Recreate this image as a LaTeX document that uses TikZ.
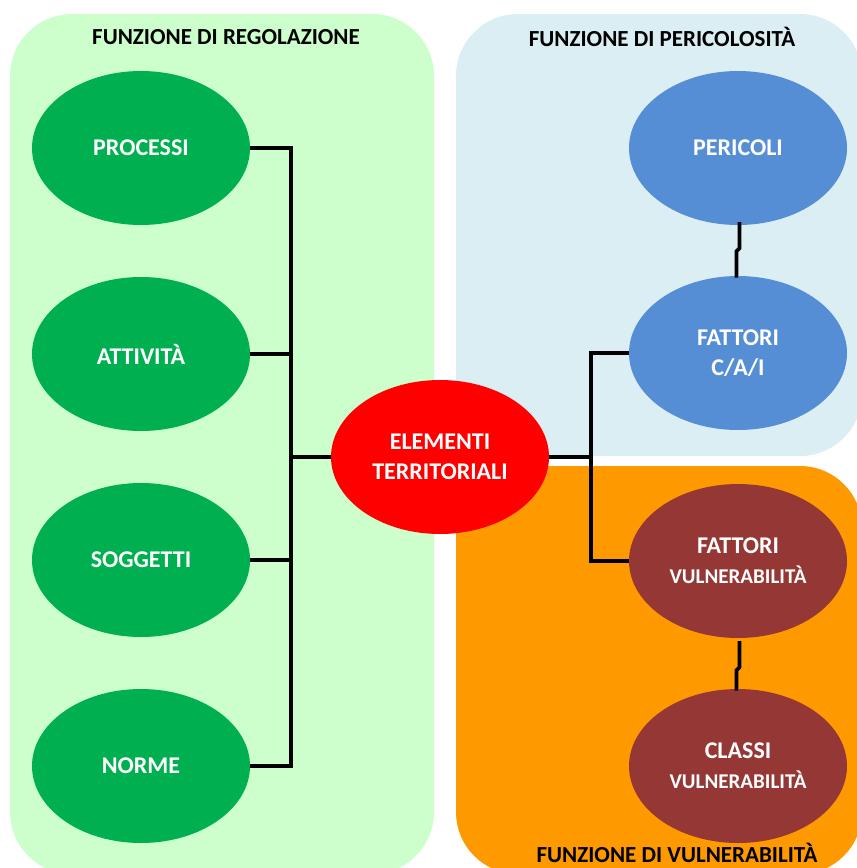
\documentclass[tikz,border=0pt]{standalone}
\usepackage{fontspec}
\setmainfont{Carlito}
\usetikzlibrary{shapes.geometric}
\definecolor{panelgreen}{HTML}{CCFFCC}
\definecolor{panelblue}{HTML}{DAEEF3}
\definecolor{panelorange}{HTML}{FF9900}
\definecolor{bubgreen}{HTML}{00B050}
\definecolor{bubblue}{HTML}{558ED5}
\definecolor{bubbrown}{HTML}{953735}
\definecolor{bubred}{HTML}{FF0000}
\newcommand{\smalltxt}{\fontsize{21}{30}\selectfont}
\tikzset{
  panel/.style={rounded corners=62pt},
  bubble/.style={ellipse, minimum width=218pt, minimum height=154pt, inner sep=0pt,
    text=white, font=\bfseries\fontsize{24}{30}\selectfont, align=center},
  title/.style={font=\bfseries\fontsize{23}{26}\selectfont, text=black},
  link/.style={line width=3.6pt, line join=miter}
}
\begin{document}
\begin{tikzpicture}[x=1pt,y=-1pt]
\useasboundingbox (0,0) rectangle (857,868);
\clip (0,0) rectangle (857,868);
% background panels
\fill[panel, panelgreen] (10,14) rectangle (434,874);
\fill[panel, panelblue] (456,14) rectangle (862,456);
\fill[panel, panelorange] (456,466) rectangle (862,874);
% panel titles
\node[title] (tReg) at (226,37) {FUNZIONE DI REGOLAZIONE};
\node[title] (tPer) at (662,37) {FUNZIONE DI PERICOLOSITÀ};
\node[title] (tVul) at (677,853) {FUNZIONE DI VULNERABILITÀ};
% left group
\node[bubble, fill=bubgreen] (proc) at (141,148) {PROCESSI};
\node[bubble, fill=bubgreen] (att) at (141,354) {ATTIVITÀ};
\node[bubble, fill=bubgreen] (sog) at (141,560) {SOGGETTI};
\node[bubble, fill=bubgreen] (norm) at (141,766) {NORME};
% centre
\node[bubble, fill=bubred] (elem) at (440,457) {ELEMENTI\\TERRITORIALI};
% right group
\node[bubble, fill=bubblue] (peri) at (738,148) {PERICOLI};
\node[bubble, fill=bubblue] (fca) at (738,353) {FATTORI\\C/A/I};
\node[bubble, fill=bubbrown] (fvul) at (738,561) {FATTORI\\{\smalltxt VULNERABILITÀ}};
\node[bubble, fill=bubbrown] (cvul) at (738,766) {CLASSI\\{\smalltxt VULNERABILITÀ}};
% bus on the left
\coordinate (busL) at (291,457);
\draw[link] (proc.east) -| (busL);
\draw[link] (norm.east) -| (busL);
\draw[link] (att.east) -- (att.east -| busL);
\draw[link] (sog.east) -- (sog.east -| busL);
\draw[link] (busL) -- (elem.west);
% bus on the right
\coordinate (busR) at (591,457);
\draw[link] (elem.east) -- (busR);
\draw[link] (fca.west) -| (busR);
\draw[link] (fvul.west) -| (busR);
% vertical links with a small kink
\draw[link] ([xshift=1.5pt,yshift=3pt]peri.south) -- ++(0,26) -- ++(-3,3) |- (fca.north);
\draw[link] ([xshift=1.5pt,yshift=-3pt]fvul.south) -- ++(0,26) -- ++(-3,3) |- (cvul.north);
\end{tikzpicture}
\end{document}
